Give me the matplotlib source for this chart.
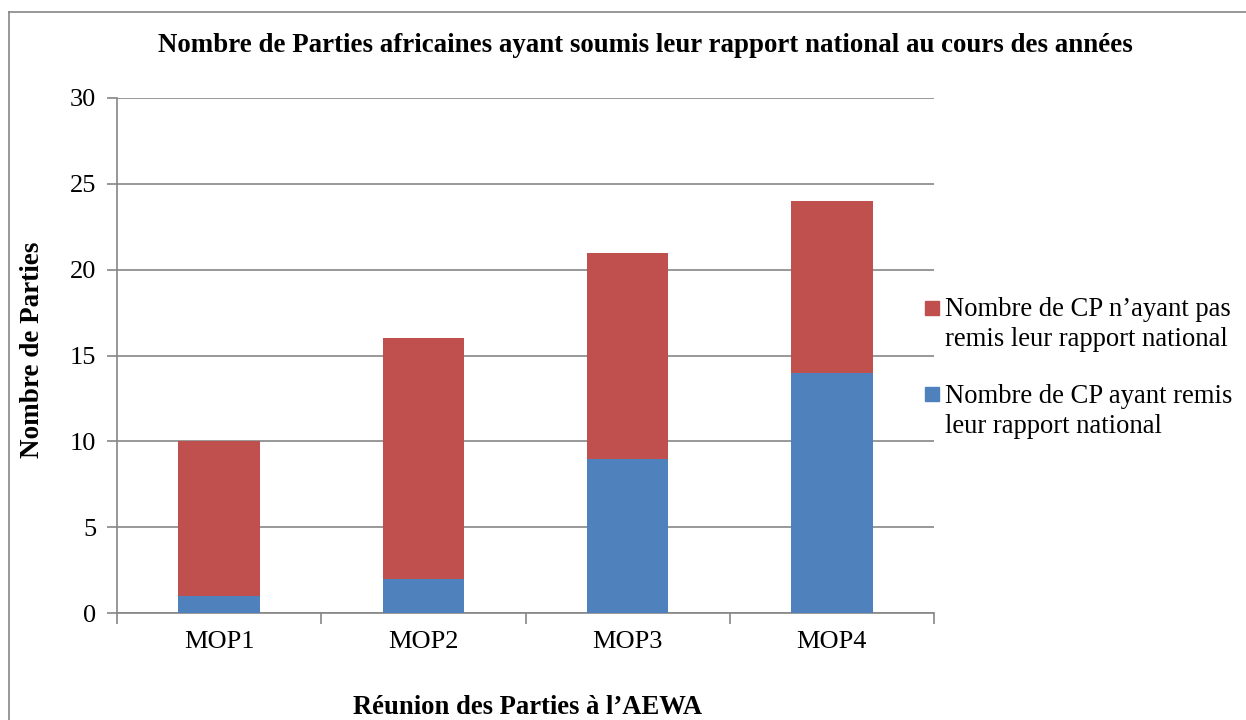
import matplotlib
matplotlib.use("Agg")
import matplotlib.pyplot as plt
from matplotlib.lines import Line2D
from matplotlib.patches import Rectangle
import numpy as np

categories = ["MOP1", "MOP2", "MOP3", "MOP4"]
remis = [1, 2, 9, 14]
non_remis = [9, 14, 12, 10]
label_non = "Nombre de CP n\u2019ayant pas\nremis leur rapport national"
label_remis = "Nombre de CP ayant remis\nleur rapport national"
title = "Nombre de Parties africaines ayant soumis leur rapport national au cours des ann\u00e9es"
xlabel = "R\u00e9union des Parties \u00e0 l\u2019AEWA"
ylabel = "Nombre de Parties"

plt.rcParams['font.family'] = ['Liberation Serif', 'DejaVu Serif']
blue = "#4F81BD"
red = "#C0504D"
grey = "#868686"

W, H = 1246, 720
fig = plt.figure(figsize=(W/100, H/100), dpi=100)
ax = fig.add_axes([117/W, 1-613/H, (934-117)/W, (613-98)/H])

x = np.arange(len(categories))
w = 0.4
b1 = ax.bar(x, remis, width=w, color=blue, zorder=3, label=label_remis)
b2 = ax.bar(x, non_remis, width=w, bottom=remis, color=red, zorder=3, label=label_non)

ax.set_xlim(-0.5, len(categories) - 0.5)
ax.set_ylim(0, 30)
ax.set_yticks(range(0, 31, 5))
ax.yaxis.grid(True, color=grey, linewidth=1.2, zorder=0)
ax.set_axisbelow(True)
for s in ["top", "right"]:
    ax.spines[s].set_visible(False)
for s in ["left", "bottom"]:
    ax.spines[s].set_color(grey)
    ax.spines[s].set_linewidth(1.2)

ax.set_xticks(x)
ax.set_xticklabels(categories, fontsize=19)
ax.tick_params(axis='x', which='major', length=0, pad=13)
ax.set_xticks(np.arange(-0.5, len(categories), 1.0), minor=True)
ax.tick_params(axis='x', which='minor', length=8, color=grey, width=1.2)
ax.tick_params(axis='y', length=7, color=grey, width=1.2, labelsize=19, pad=8)

fig.text(645/W, 1-45/H, title, ha='center', va='center', fontsize=19.4, fontweight='bold')
fig.text(528/W, 1-708/H, xlabel, ha='center', va='center', fontsize=19.2, fontweight='bold')
fig.text(33/W, 1-350/H, ylabel, ha='center', va='center', rotation=90, fontsize=19.5, fontweight='bold')

# legend (square aligned with first text line, as in reference)
entries = [(red, label_non, 301, 316), (blue, label_remis, 387, 403)]
for color, lab, sq_top, base in entries:
    fig.add_artist(Rectangle((925/W, 1-(sq_top+14)/H), 14/W, 14/H, color=color,
                             transform=fig.transFigure))
    for i, line in enumerate(lab.split("\n")):
        fig.text(945/W, 1-(base + i*30)/H, line, ha='left', va='baseline', fontsize=19.2)

fig.add_artist(Line2D([9/W, 9/W], [0, 1-12/H], color=grey, linewidth=1.2, transform=fig.transFigure))
fig.add_artist(Line2D([9/W, 1], [1-12/H, 1-12/H], color=grey, linewidth=1.2, transform=fig.transFigure))

fig.savefig("out.png", dpi=100)
